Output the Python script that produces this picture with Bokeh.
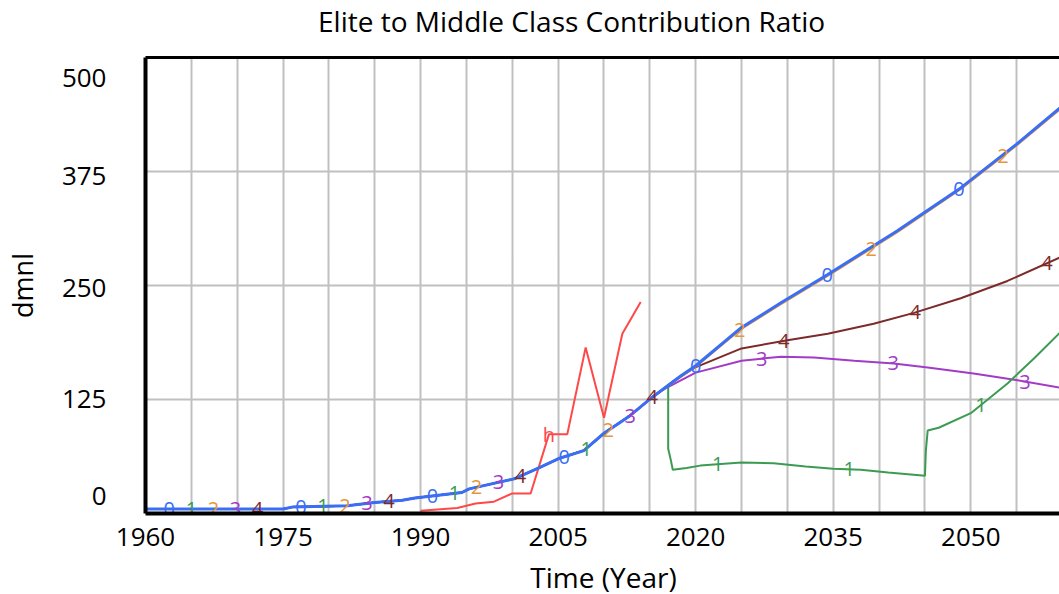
import numpy as np
from bokeh.plotting import figure
from bokeh.layouts import column
from bokeh.models import FixedTicker, LinearAxis, Range1d
from bokeh.core.properties import value
from bokeh.embed import file_html
from bokeh.resources import INLINE

# ---------------- data ----------------
title_text = "Elite to Middle Class Contribution Ratio"
x_title = "Time (Year)"
y_title = "dmnl"
x_ticks = [1960, 1975, 1990, 2005, 2020, 2035, 2050]
x_grid = list(range(1960, 2061, 5))
y_ticks = [0, 125, 250, 375, 500]
y_tick_labels = ["0", "125", "250", "375", "500"]

# common history of runs 0-4
base_years = [1960, 1975, 1976, 1982, 1985, 1988, 1989.4, 1994.5, 1995.3, 2000.2,
              2002.9, 2005, 2007.8, 2010, 2012.8, 2015.2]
base_vals = [5, 5, 7, 8.5, 12, 14.5, 17, 23, 27, 38, 50, 60, 69, 88, 107, 127]

run0_years = [2018.4, 2020, 2025, 2029.3, 2034.4, 2042, 2048.9, 2055, 2060]
run0_vals = [151, 162, 204, 231, 262, 310, 357, 405, 447]

run2_years = [2018.4, 2020, 2025, 2029.3, 2034.4, 2042, 2048.9, 2055, 2060]
run2_vals = [150, 161, 202.5, 229.5, 260.5, 308.5, 355.5, 403.5, 445.5]

run3_years = [2016.2, 2017.7, 2020, 2025, 2029.3, 2032.9, 2037.3, 2041.6, 2045.3,
              2050.3, 2055.1, 2060]
run3_vals = [134.5, 142.5, 154.5, 167.5, 172, 171, 167.5, 164.5, 160, 153.5, 146, 137.5]

run4_years = [2016.2, 2017.7, 2019.9, 2025, 2030, 2034.4, 2039.4, 2043.8, 2048.9,
              2054, 2060]
run4_vals = [134.5, 146, 160, 181, 190, 197, 208, 220, 236, 255, 282]

run1_years = [2017.0, 2017.0, 2017.3, 2017.5, 2019.0, 2020.5, 2025, 2028.5, 2032,
              2035, 2038, 2041, 2045.0, 2045.1, 2045.3, 2046.5, 2050, 2054, 2057, 2060]
run1_vals = [140, 71, 58, 48, 50, 52.5, 56, 55, 51.5, 49, 48, 45, 41.5, 69, 91, 94,
             110, 142.5, 171, 201]

hist_years = [1990, 1994, 1996, 1998, 2000, 2002, 2004, 2006, 2008, 2010, 2012, 2014]
hist_vals = [3, 6, 11, 13, 22, 22, 87, 87, 182, 105, 197, 232]

# ---------------- styling / layout ----------------
FONT = "Open Sans"
colors = {"0": "#3a6ef5", "1": "#3c9b52", "2": "#e6963c", "3": "#a23cc6",
          "4": "#7d2a2a", "h": "#ff4848"}

PX_PER_YEAR = 9.19
PX_PER_UNIT = 0.912
W = 1059
TITLE_H, MAIN_H, XLAB_H = 45, 512, 37        # total 594
LEFT, FRAME_TOP, FRAME_BOTTOM = 143, 57, 513  # page pixels
FRAME_W = W - LEFT
X_START, X_END = 1960, 1960 + FRAME_W / PX_PER_YEAR


def px_to_year(px):
    return X_START + (px - LEFT) / PX_PER_YEAR


def text_strip(height, txt, cx_px, cy, size):
    """A bare strip (figure without axes, frame aligned with the chart) holding one text."""
    f = figure(width=W, height=height, output_backend="svg", toolbar_location=None,
               x_range=Range1d(X_START, X_END), y_range=Range1d(height, 0),
               x_axis_type=None, y_axis_type=None,
               min_border_left=LEFT, min_border_right=0,
               min_border_top=0, min_border_bottom=0,
               outline_line_color=None, background_fill_color="white",
               border_fill_color="white")
    f.grid.visible = False
    f.text(x=[px_to_year(cx_px)], y=[cy], text=[txt], text_color="black",
           text_font=value(FONT), text_font_size=size,
           text_align="center", text_baseline="middle")
    return f


title_fig = text_strip(TITLE_H, title_text, 570, 20, "28px")

p = figure(width=W, height=MAIN_H, output_backend="svg", toolbar_location=None,
           x_range=Range1d(X_START, X_END),
           y_range=Range1d(0, 500),
           min_border_left=LEFT, min_border_right=0,
           min_border_top=FRAME_TOP - TITLE_H,
           min_border_bottom=TITLE_H + MAIN_H - FRAME_BOTTOM,
           background_fill_color="white", border_fill_color="white",
           outline_line_color=None)

# x axis
p.xaxis.ticker = FixedTicker(ticks=x_ticks)
p.xaxis.major_tick_line_color = None
p.xaxis.minor_tick_line_color = None
p.xaxis.axis_line_color = "black"
p.xaxis.axis_line_width = 4
p.xaxis.major_label_text_font = FONT
p.xaxis.major_label_text_font_size = "26px"
p.xaxis.major_label_text_color = "black"
p.xaxis.major_label_standoff = 8

# y axis: tick labels sit slightly shifted like in the original (px, + = down)
y_tick_shift_px = [-18, -1, 2, 4, 20]
y_label_pos = [t - s / PX_PER_UNIT for t, s in zip(y_ticks, y_tick_shift_px)]
p.yaxis.ticker = FixedTicker(ticks=y_label_pos)
p.yaxis.major_label_overrides = {pos: lab for pos, lab in zip(y_label_pos, y_tick_labels)}
p.yaxis.major_tick_line_color = None
p.yaxis.minor_tick_line_color = None
p.yaxis.axis_line_color = "black"
p.yaxis.axis_line_width = 4
p.yaxis.major_label_text_font = FONT
p.yaxis.major_label_text_font_size = "26px"
p.yaxis.major_label_text_color = "black"
p.yaxis.major_label_standoff = 33
p.yaxis.axis_label = y_title
p.yaxis.axis_label_text_font = FONT
p.yaxis.axis_label_text_font_size = "27px"
p.yaxis.axis_label_text_font_style = "normal"
p.yaxis.axis_label_text_color = "black"
p.yaxis.axis_label_standoff = 18

top_axis = LinearAxis(ticker=FixedTicker(ticks=[]), axis_line_width=3,
                      axis_line_color="black", major_tick_line_color=None,
                      minor_tick_line_color=None)
p.add_layout(top_axis, "above")

p.xgrid.ticker = FixedTicker(ticks=x_grid)
p.ygrid.ticker = FixedTicker(ticks=y_ticks)
for g in (p.xgrid, p.ygrid):
    g.grid_line_color = "#c0c0c0"
    g.grid_line_width = 2


def full(years, vals):
    return list(base_years) + list(years), list(base_vals) + list(vals)


series = {
    "h": (hist_years, hist_vals),
    "4": full(run4_years, run4_vals),
    "3": full(run3_years, run3_vals),
    "2": full(run2_years, run2_vals),
    "1": full(run1_years, run1_vals),
    "0": full(run0_years, run0_vals),
}
widths = {"h": 2, "4": 2, "3": 2, "2": 2, "1": 2, "0": 3}
for key, (xs, ys) in series.items():
    p.line(xs, ys, line_color=colors[key], line_width=widths[key])

# series number markers along each line
label_years = {}
for i, key in enumerate(["0", "1", "2", "3", "4"]):
    label_years[key] = [1962.6 + 2.4 * i + 14.35 * k for k in range(7)]
label_years["h"] = [2004.0]

for key, (xs, ys) in series.items():
    lx = label_years[key]
    ly = list(np.interp(lx, xs, ys))
    p.text(x=lx, y=ly, text=[key] * len(lx), text_color=colors[key],
           text_font=value(FONT), text_font_size="20px",
           text_align="center", text_baseline="middle")

xlab_fig = text_strip(XLAB_H, x_title, 602, 576 - TITLE_H - MAIN_H, "28px")

layout = column(title_fig, p, xlab_fig, spacing=0)
open("out.html", "w").write(file_html(layout, INLINE))
